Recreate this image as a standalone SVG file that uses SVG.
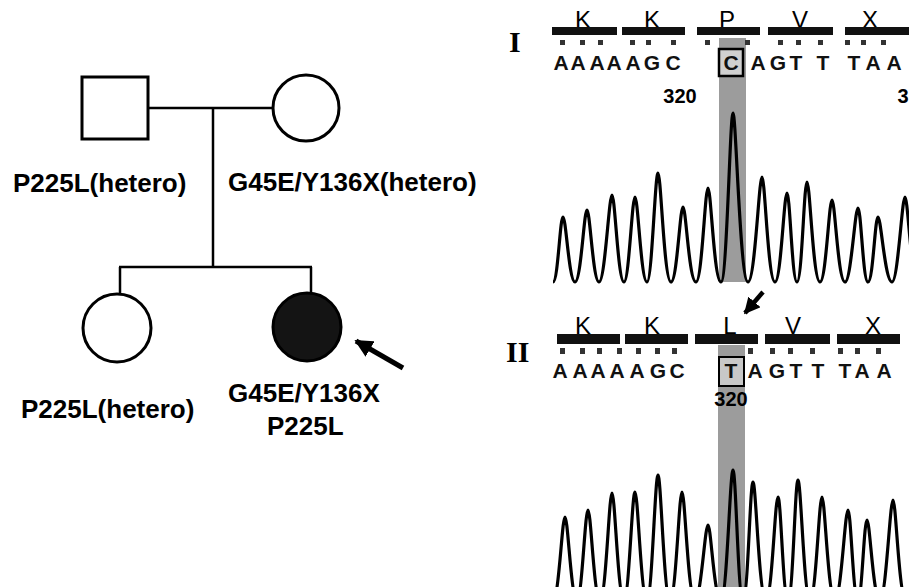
<svg xmlns="http://www.w3.org/2000/svg" width="909" height="587" viewBox="0 0 909 587">
<style>
.ln{stroke:#000;stroke-width:2.5;fill:none}
.sym{stroke:#000;stroke-width:3;fill:#fff}
.lab{font-family:"Liberation Sans",Arial,sans-serif;font-weight:bold;font-size:26px;fill:#000}
.aa{font-family:"Liberation Sans",Arial,sans-serif;font-size:24px;fill:#000;text-anchor:middle}
.nt{font-family:"Liberation Sans",Arial,sans-serif;font-size:21px;font-weight:bold;fill:#111;text-anchor:middle}
.num{font-family:"Liberation Sans",Arial,sans-serif;font-size:20px;font-weight:bold;fill:#000;text-anchor:middle}
.rom{font-family:"Liberation Serif","Times New Roman",serif;font-size:30px;font-weight:bold;fill:#000}
.bar{fill:#111}
.mk{fill:#333}
.band{fill:#9c9c9c}
.trace{stroke:#000;stroke-width:3.2;fill:none;stroke-linejoin:round}
</style>
<defs>
<marker id="ah" viewBox="0 0 10 10" refX="9" refY="5" markerWidth="3.6" markerHeight="3.6" orient="auto" markerUnits="strokeWidth">
<path d="M0,0 L10,5 L0,10 z" fill="#000"/>
</marker>
</defs>
<rect width="909" height="587" fill="#fff"/>

<g id="connectors">
<line class="ln" x1="148" y1="108" x2="273" y2="108"/>
<line class="ln" x1="213" y1="108" x2="213" y2="267"/>
<line class="ln" x1="119" y1="267" x2="312" y2="267"/>
<line class="ln" x1="120" y1="267" x2="120" y2="294"/>
<line class="ln" x1="311" y1="267" x2="311" y2="293"/>
<line x1="403" y1="368" x2="356" y2="341" stroke="#000" stroke-width="5" marker-end="url(#ah)"/>
<line x1="763" y1="292" x2="745" y2="313" stroke="#000" stroke-width="4.5" marker-end="url(#ah)"/>
</g>

<g id="father">
<rect class="sym" x="82" y="77" width="66" height="62"/>
<text class="lab" x="13" y="192">P225L(hetero)</text>
</g>
<g id="mother">
<circle class="sym" cx="306" cy="108" r="33"/>
<text class="lab" x="228" y="191">G45E/Y136X(hetero)</text>
</g>
<g id="daughter">
<circle class="sym" cx="117" cy="328" r="34"/>
<text class="lab" x="21" y="418">P225L(hetero)</text>
</g>
<g id="proband">
<circle cx="307" cy="327" r="34" fill="#141414" stroke="#000" stroke-width="3"/>
<text class="lab" x="228" y="402">G45E/Y136X</text>
<text class="lab" x="267" y="435">P225L</text>
</g>

<g id="panel-I">
<text class="rom" x="509" y="52">I</text>
<rect class="band" x="719" y="38" width="27" height="244"/>
<text class="aa" x="583" y="28">K</text>
<text class="aa" x="652" y="28">K</text>
<text class="aa" x="727" y="28">P</text>
<text class="aa" x="800" y="28">V</text>
<text class="aa" x="870" y="28">X</text>
<rect class="bar" x="552" y="27" width="65" height="8"/>
<rect class="bar" x="622" y="27" width="63" height="8"/>
<rect class="bar" x="697" y="27" width="63" height="8"/>
<rect class="bar" x="768" y="27" width="65" height="8"/>
<rect class="bar" x="845" y="27" width="64" height="8"/>
<g class="mk">
<rect x="560" y="40" width="5" height="5"/><rect x="580" y="40" width="5" height="5"/><rect x="598" y="40" width="5" height="5"/>
<rect x="630" y="40" width="5" height="5"/><rect x="646" y="40" width="5" height="5"/><rect x="671" y="40" width="5" height="5"/>
<rect x="705" y="40" width="5" height="5"/><rect x="745" y="40" width="5" height="5"/>
<rect x="778" y="40" width="5" height="5"/><rect x="796" y="40" width="5" height="5"/><rect x="818" y="40" width="5" height="5"/>
<rect x="845" y="40" width="5" height="5"/><rect x="861" y="40" width="5" height="5"/><rect x="881" y="40" width="5" height="5"/>
</g>
<rect x="719" y="49" width="24" height="27" fill="#d0d0d0" stroke="#000" stroke-width="2.5"/>
<text class="nt" x="561" y="70">A</text>
<text class="nt" x="578" y="70">A</text>
<text class="nt" x="597" y="70">A</text>
<text class="nt" x="614" y="70">A</text>
<text class="nt" x="633" y="70">A</text>
<text class="nt" x="652" y="70">G</text>
<text class="nt" x="673" y="70">C</text>
<text class="nt" x="731" y="70">C</text>
<text class="nt" x="758" y="70">A</text>
<text class="nt" x="778" y="70">G</text>
<text class="nt" x="796" y="70">T</text>
<text class="nt" x="823" y="70">T</text>
<text class="nt" x="854" y="70">T</text>
<text class="nt" x="873" y="70">A</text>
<text class="nt" x="894" y="70">A</text>
<text class="num" x="680" y="103">320</text>
<text class="num" x="903" y="103" text-anchor="start">3</text>
<path class="trace" d="M553,282 C558,282 560,217 563,217 C566,217 569,282 575,282 C581,282 584,210 587,210 C590,210 593,282 599,282 C605,282 609,195 612,195 C615,195 618,282 624,282 C629,282 632,197 635,197 C638,197 641,282 647,282 C652,282 655,173 658,173 C661,173 664,282 671,282 C677,282 680,207 683,207 C686,207 689,282 696,282 C702,282 705,188 708,188 C711,188 714,282 721,282 C727,282 730,113 733,113 C736,113 740,282 748,282 C755,282 759,177 762,177 C765,177 768,282 775,282 C781,282 784,193 787,193 C790,193 792,282 797,282 C802,282 804,182 807,182 C810,182 813,282 820,282 C826,282 829,200 832,200 C835,200 838,282 845,282 C851,282 855,208 858,208 C861,208 863,282 868,282 C873,282 875,217 878,217 C881,217 885,282 892,282 C898,282 902,197 905,197 C908,197 911,282 918,282"/>
</g>

<g id="panel-II">
<text class="rom" x="506" y="362">II</text>
<rect class="band" x="718" y="345" width="27" height="242"/>
<text class="aa" x="583" y="334">K</text>
<text class="aa" x="652" y="334">K</text>
<text class="aa" x="730" y="334">L</text>
<text class="aa" x="793" y="334">V</text>
<text class="aa" x="873" y="334">X</text>
<rect class="bar" x="557" y="334" width="63" height="10"/>
<rect class="bar" x="625" y="334" width="63" height="10"/>
<rect class="bar" x="695" y="334" width="63" height="10"/>
<rect class="bar" x="765" y="334" width="65" height="10"/>
<rect class="bar" x="837" y="334" width="63" height="10"/>
<g class="mk">
<rect x="560" y="348" width="5" height="6"/><rect x="580" y="348" width="5" height="6"/><rect x="597" y="348" width="5" height="6"/>
<rect x="617" y="348" width="5" height="6"/><rect x="636" y="348" width="5" height="6"/><rect x="655" y="348" width="5" height="6"/>
<rect x="672" y="348" width="5" height="6"/><rect x="748" y="348" width="5" height="6"/>
<rect x="770" y="348" width="5" height="6"/><rect x="788" y="348" width="5" height="6"/><rect x="810" y="348" width="5" height="6"/>
<rect x="838" y="348" width="5" height="6"/><rect x="855" y="348" width="5" height="6"/><rect x="876" y="348" width="5" height="6"/>
</g>
<rect x="719" y="357" width="25" height="29" fill="#c8c8c8" stroke="#000" stroke-width="2"/>
<text class="nt" x="560" y="378">A</text>
<text class="nt" x="580" y="378">A</text>
<text class="nt" x="598" y="378">A</text>
<text class="nt" x="617" y="378">A</text>
<text class="nt" x="637" y="378">A</text>
<text class="nt" x="658" y="378">G</text>
<text class="nt" x="677" y="378">C</text>
<text class="nt" x="731" y="378" fill="#333">T</text>
<text class="nt" x="755" y="378">A</text>
<text class="nt" x="777" y="378">G</text>
<text class="nt" x="796" y="378">T</text>
<text class="nt" x="818" y="378">T</text>
<text class="nt" x="845" y="378">T</text>
<text class="nt" x="862" y="378">A</text>
<text class="nt" x="884" y="378">A</text>
<text class="num" x="731" y="406">320</text>
<path class="trace" d="M553,600 C559,600 562,517 565,517 C568,517 571,600 577,600 C582,600 585,510 588,510 C591,510 594,600 600,600 C606,600 609,493 612,493 C615,493 618,600 624,600 C629,600 632,492 635,492 C638,492 641,600 647,600 C652,600 655,475 658,475 C661,475 664,600 670,600 C676,600 679,492 682,492 C685,492 688,600 695,600 C701,600 705,525 708,525 C711,525 714,600 721,600 C727,600 730,470 733,470 C736,470 738,600 743,600 C748,600 750,482 753,482 C756,482 759,600 766,600 C772,600 775,497 778,497 C781,497 783,600 788,600 C793,600 795,480 798,480 C801,480 804,600 810,600 C816,600 819,497 822,497 C825,497 828,600 835,600 C841,600 845,510 848,510 C851,510 853,600 858,600 C862,600 864,520 867,520 C870,520 873,600 880,600 C886,600 890,500 893,500 C896,500 899,600 906,600"/>
</g>
</svg>
